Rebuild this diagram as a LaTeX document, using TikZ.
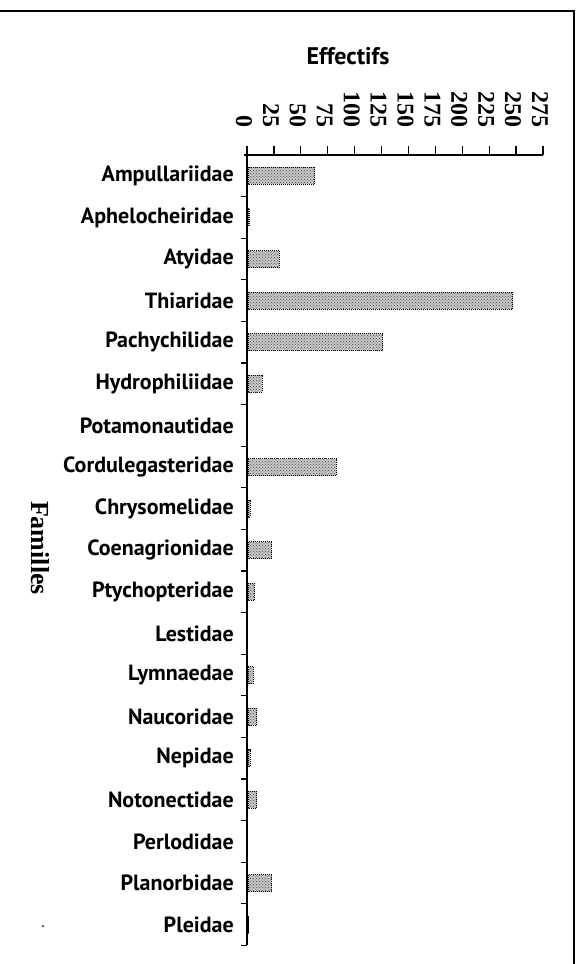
\documentclass[tikz,border=0pt]{standalone}
\usepackage{fontspec}
\setmainfont{Liberation Serif}
\newfontfamily\labfont{PT Sans}
\usetikzlibrary{patterns}

\begin{document}
\begin{tikzpicture}[x = 1pt, y = -1pt,
	famname/.style = {anchor = east, inner sep = 0pt, font = \labfont\bfseries\fontsize{22}{22}\selectfont},
	ticknum/.style = {anchor = east, rotate = -90, inner sep = 0pt, font = \bfseries\fontsize{24}{24}\selectfont},
	barbox/.style = {draw = black, densely dotted, line width = 1pt, preaction = {fill = black!22}, pattern = crosshatch dots, pattern color = black!70}]
	\useasboundingbox (0,0) rectangle (582,964);
	\draw[line width = 1.4pt] (0,11) -- (574,11) -- (574,964); %frame
	\node[font = \labfont\bfseries\fontsize{24}{24}\selectfont] (title) at (348,56) {Effectifs};
	\node[rotate = -90, font = \bfseries\fontsize{26}{26}\selectfont] (axname) at (40,548) {Familles};
	\draw[line width = 1.6pt] (244,155) -- (543,155); %x-axis
	\draw[line width = 1.6pt] (247,155) -- (247,945); %y-axis
	\foreach \v in {0,25,...,275} {
		\draw[line width = 1.3pt] ({247+1.0764*\v},155) -- ++(0,-9);
		\node[ticknum] (n\v) at ({244+1.0764*\v},128) {\v};
	}
	\foreach \fam/\val [count = \i] in {Ampullariidae/63, Aphelocheiridae/2, Atyidae/30, Thiaridae/247, Pachychilidae/126, Hydrophiliidae/14, Potamonautidae/0, Cordulegasteridae/83, Chrysomelidae/3, Coenagrionidae/23, Ptychopteridae/7, Lestidae/0, Lymnaedae/6, Naucoridae/9, Nepidae/3, Notonectidae/9, Perlodidae/0, Planorbidae/23, Pleidae/1} {
		\node[famname] (f\i) at (234,{155+41.6*(\i-.5)}) {\fam};
		\ifnum\val>0
			\draw[barbox] (248,{155+41.6*(\i-.5)-8.5}) rectangle ({247+1.0764*\val},{155+41.6*(\i-.5)+8.5});
		\fi
		\draw[line width = 1.3pt] (247,{155+41.6*\i}) -- ++(-6,0);
	}
	\fill (43,926) circle (1pt); %speck
\end{tikzpicture}
\end{document}
